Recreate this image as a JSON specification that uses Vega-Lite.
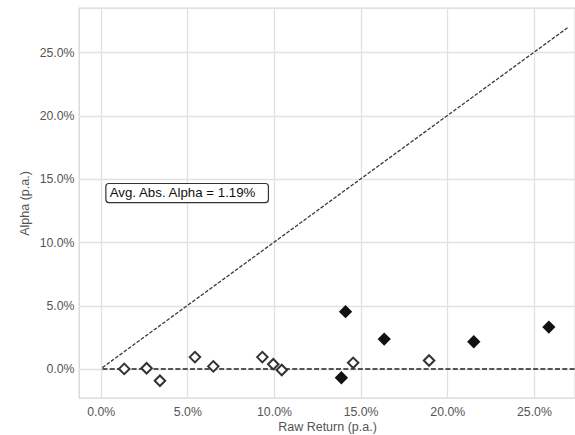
{
  "$schema": "https://vega.github.io/schema/vega-lite/v6.json",
  "width": 496,
  "height": 390,
  "autosize": "none",
  "padding": {"left": 79, "top": 8, "right": 0, "bottom": 37},
  "background": "white",
  "config": {
    "font": "Liberation Sans",
    "view": {"stroke": "#d6d6d6", "strokeWidth": 1.3},
    "axis": {
      "grid": true,
      "gridColor": "#e1e1e1",
      "gridWidth": 1.3,
      "domain": false,
      "ticks": false,
      "labelColor": "#555555",
      "labelFontSize": 12.3,
      "titleColor": "#555555",
      "titleFontSize": 12.5,
      "titleFontWeight": "normal"
    }
  },
  "datasets": {
    "funds": [
      {"raw": 0.0136, "alpha": 0.0000, "significant": "no"},
      {"raw": 0.0265, "alpha": 0.0005, "significant": "no"},
      {"raw": 0.0342, "alpha": -0.0094, "significant": "no"},
      {"raw": 0.0544, "alpha": 0.0093, "significant": "no"},
      {"raw": 0.0650, "alpha": 0.0020, "significant": "no"},
      {"raw": 0.0933, "alpha": 0.0093, "significant": "no"},
      {"raw": 0.0996, "alpha": 0.0037, "significant": "no"},
      {"raw": 0.1045, "alpha": -0.0009, "significant": "no"},
      {"raw": 0.1457, "alpha": 0.0048, "significant": "no"},
      {"raw": 0.1895, "alpha": 0.0066, "significant": "no"},
      {"raw": 0.1413, "alpha": 0.0452, "significant": "yes"},
      {"raw": 0.1389, "alpha": -0.0070, "significant": "yes"},
      {"raw": 0.1636, "alpha": 0.0235, "significant": "yes"},
      {"raw": 0.2153, "alpha": 0.0214, "significant": "yes"},
      {"raw": 0.2586, "alpha": 0.0330, "significant": "yes"}
    ],
    "diag": [
      {"raw": 0.001, "alpha": 0.001},
      {"raw": 0.270, "alpha": 0.270}
    ],
    "zero": [
      {"raw": 0.001, "alpha": 0.0},
      {"raw": 0.290, "alpha": 0.0}
    ]
  },
  "layer": [
    {
      "data": {"name": "zero"},
      "mark": {"type": "line", "color": "#555555", "strokeWidth": 2, "strokeDash": [5, 2.3], "clip": true},
      "encoding": {
        "x": {"field": "raw", "type": "quantitative", "scale": {"domain": [-0.0125, 0.2737], "nice": false, "zero": false}},
        "y": {"field": "alpha", "type": "quantitative", "scale": {"domain": [-0.023, 0.285], "nice": false, "zero": false}}
      }
    },
    {
      "data": {"name": "diag"},
      "mark": {"type": "line", "color": "#3a3a3a", "strokeWidth": 1.3, "strokeDash": [3.7, 1.6], "clip": true},
      "encoding": {
        "x": {"field": "raw", "type": "quantitative", "scale": {"domain": [-0.0125, 0.2737], "nice": false, "zero": false}},
        "y": {"field": "alpha", "type": "quantitative", "scale": {"domain": [-0.023, 0.285], "nice": false, "zero": false}}
      }
    },
    {
      "data": {"name": "funds"},
      "mark": {"type": "point", "shape": "diamond", "size": 110, "strokeWidth": 2, "opacity": 1, "filled": false},
      "encoding": {
        "x": {
          "field": "raw", "type": "quantitative",
          "scale": {"domain": [-0.0125, 0.2737], "nice": false, "zero": false},
          "axis": {"title": "Raw Return (p.a.)", "values": [0, 0.05, 0.1, 0.15, 0.2, 0.25], "format": ".1%", "labelPadding": 7, "titlePadding": 3}
        },
        "y": {
          "field": "alpha", "type": "quantitative",
          "scale": {"domain": [-0.023, 0.285], "nice": false, "zero": false},
          "axis": {"title": "Alpha (p.a.)", "values": [0, 0.05, 0.1, 0.15, 0.2, 0.25], "format": ".1%", "labelPadding": 5, "titlePadding": 8}
        },
        "fill": {"field": "significant", "type": "nominal", "scale": {"domain": ["no", "yes"], "range": ["white", "#111111"]}, "legend": null},
        "stroke": {"field": "significant", "type": "nominal", "scale": {"domain": ["no", "yes"], "range": ["#333333", "#111111"]}, "legend": null}
      }
    },
    {
      "data": {"values": [{"label": "Avg. Abs. Alpha = 1.19%"}]},
      "mark": {"type": "rect", "fill": "white", "stroke": "#333333", "strokeWidth": 1.2, "cornerRadius": 3},
      "encoding": {
        "x": {"datum": 0.0030, "type": "quantitative"},
        "x2": {"datum": 0.0968},
        "y": {"datum": 0.1464, "type": "quantitative"},
        "y2": {"datum": 0.1313}
      }
    },
    {
      "data": {"values": [{"label": "Avg. Abs. Alpha = 1.19%"}]},
      "mark": {"type": "text", "align": "left", "baseline": "middle", "fontSize": 13.3, "color": "#111111"},
      "encoding": {
        "x": {"datum": 0.0052, "type": "quantitative"},
        "y": {"datum": 0.1392, "type": "quantitative"},
        "text": {"field": "label", "type": "nominal"}
      }
    }
  ]
}
